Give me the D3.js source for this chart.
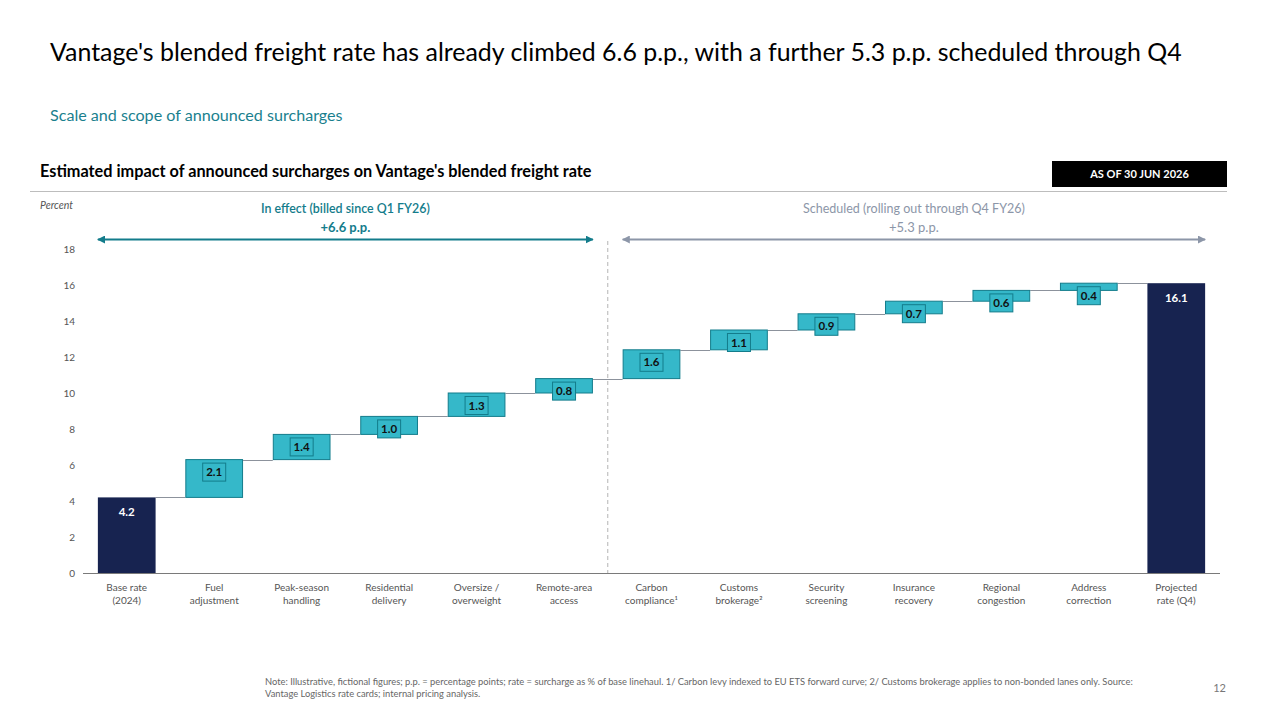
<!DOCTYPE html>
<html>
<head>
<meta charset="utf-8">
<script src="https://cdn.jsdelivr.net/npm/d3@7"></script>
<style>
  body { margin: 0; background: #fff; }
  svg { font-family: Lato, "Open Sans", sans-serif; }
</style>
</head>
<body>
<div id="chart"></div>
<script>
// Chart data
var categories = ["Base rate|(2024)", "Fuel|adjustment", "Peak-season|handling", "Residential|delivery",
  "Oversize /|overweight", "Remote-area|access", "Carbon|compliance\u00b9", "Customs|brokerage\u00b2",
  "Security|screening", "Insurance|recovery", "Regional|congestion", "Address|correction", "Projected|rate (Q4)"];
var values = [4.2, 2.1, 1.4, 1.0, 1.3, 0.8, 1.6, 1.1, 0.9, 0.7, 0.6, 0.4, 16.1];
var kinds = ["total", "step", "step", "step", "step", "step", "step", "step", "step", "step", "step", "step", "total"];
var yTicks = [0, 2, 4, 6, 8, 10, 12, 14, 16, 18];
var inEffectCount = 6; // base + 5 surcharges billed already

var svgWidth = 1280;
var svgHeight = 720;

var svg = d3.select("#chart").append("svg")
  .attr("width", svgWidth)
  .attr("height", svgHeight);

// scale a text's font size so it spans roughly the width seen in the slide
function fitWidth(sel, target) {
  var w = sel.node().getComputedTextLength();
  var fs = parseFloat(sel.attr("font-size"));
  if (w > 0) sel.attr("font-size", (fs * target / w).toFixed(2) + "px");
  return sel;
}

// Headline and subtitle
fitWidth(svg.append("text")
  .attr("x", 50).attr("y", 61)
  .attr("font-size", "22px").attr("fill", "#000")
  .text("Vantage's blended freight rate has already climbed 6.6 p.p., with a further 5.3 p.p. scheduled through Q4"), 1132);

fitWidth(svg.append("text")
  .attr("x", 50).attr("y", 121)
  .attr("font-size", "15px").attr("fill", "#1a7f8e")
  .text("Scale and scope of announced surcharges"), 293);

fitWidth(svg.append("text")
  .attr("x", 40).attr("y", 177)
  .attr("font-size", "15px").attr("font-weight", "bold").attr("fill", "#000")
  .text("Estimated impact of announced surcharges on Vantage's blended freight rate"), 552);

// "as of" tag
svg.append("rect").attr("x", 1052).attr("y", 161).attr("width", 175).attr("height", 26).attr("fill", "#000");
svg.append("text")
  .attr("x", 1139.5).attr("y", 178)
  .attr("text-anchor", "middle").attr("font-size", "11px").attr("font-weight", "bold").attr("fill", "#fff")
  .text("AS OF 30 JUN 2026");

svg.append("line").attr("x1", 30).attr("x2", 1227).attr("y1", 191.5).attr("y2", 191.5)
  .attr("stroke", "#bdbdbd").attr("stroke-width", 1);

svg.append("text")
  .attr("x", 40).attr("y", 209)
  .attr("font-size", "10.5px").attr("font-style", "italic").attr("fill", "#555")
  .text("Percent");

// Scales
var xScale = d3.scaleBand()
  .domain(categories)
  .range([83, 1220])
  .paddingInner(0.34)
  .paddingOuter(0.17);

var yScale = d3.scaleLinear()
  .domain([0, 18])
  .range([573, 249]);

// Build waterfall rows
var running = 0;
var rows = categories.map(function(c, i) {
  var v = values[i];
  var row;
  if (kinds[i] === "total") {
    row = { cat: c, kind: "total", start: 0, end: v, value: v };
    running = v;
  } else {
    row = { cat: c, kind: "step", start: running, end: running + v, value: v };
    running += v;
  }
  return row;
});

var chartGroup = svg.append("g");

// Y axis labels (no line)
var leftAxis = d3.axisLeft(yScale).tickValues(yTicks).tickSize(0).tickPadding(0);
chartGroup.append("g")
  .attr("transform", "translate(75, 0)")
  .call(leftAxis)
  .call(function(g) {
    g.select(".domain").remove();
    g.selectAll("text").attr("font-size", "10px").attr("fill", "#555").attr("font-family", "Lato, sans-serif");
  });

// Divider between billed and scheduled
var divX = (xScale(categories[inEffectCount - 1]) + xScale.bandwidth() + xScale(categories[inEffectCount])) / 2;
chartGroup.append("line")
  .attr("x1", divX).attr("x2", divX)
  .attr("y1", 241).attr("y2", 573)
  .attr("stroke", "#b5b5b5").attr("stroke-dasharray", "4,3");

// Connectors
chartGroup.selectAll(".connector")
  .data(rows.slice(0, -1))
  .enter().append("line")
  .attr("x1", function(d) { return xScale(d.cat) + xScale.bandwidth(); })
  .attr("x2", function(d, i) { return xScale(rows[i + 1].cat); })
  .attr("y1", function(d) { return Math.round(yScale(d.end)) + 0.5; })
  .attr("y2", function(d) { return Math.round(yScale(d.end)) + 0.5; })
  .attr("stroke", "#8c929c").attr("stroke-width", 1);

// Bars
chartGroup.selectAll(".bar")
  .data(rows)
  .enter().append("rect")
  .attr("x", function(d) { return xScale(d.cat) + (d.kind === "step" ? 0.5 : 0); })
  .attr("y", function(d) { return yScale(d.end); })
  .attr("width", function(d) { return xScale.bandwidth() - (d.kind === "step" ? 1 : 0); })
  .attr("height", function(d) { return yScale(d.start) - yScale(d.end); })
  .attr("fill", function(d) { return d.kind === "total" ? "#172350" : "#35b8c9"; })
  .attr("stroke", function(d) { return d.kind === "total" ? "none" : "#137c8b"; })
  .attr("stroke-width", 1);

// Step labels in small boxes
var steps = rows.filter(function(d) { return d.kind === "step"; });
chartGroup.selectAll(".lblbox")
  .data(steps)
  .enter().append("rect")
  .attr("x", function(d) { return xScale(d.cat) + xScale.bandwidth() / 2 - 11.5; })
  .attr("y", function(d) { return yScale(d.end) + 3.5; })
  .attr("width", 23).attr("height", 18)
  .attr("fill", "#35b8c9").attr("stroke", "#137c8b").attr("stroke-width", 1);

chartGroup.selectAll(".lbl")
  .data(steps)
  .enter().append("text")
  .attr("x", function(d) { return xScale(d.cat) + xScale.bandwidth() / 2; })
  .attr("y", function(d) { return yScale(d.end) + 16.5; })
  .attr("text-anchor", "middle").attr("font-size", "11.5px").attr("font-weight", "bold").attr("fill", "#111")
  .text(function(d) { return d.value.toFixed(1); });

// Total labels
chartGroup.selectAll(".totlbl")
  .data(rows.filter(function(d) { return d.kind === "total"; }))
  .enter().append("text")
  .attr("x", function(d) { return xScale(d.cat) + xScale.bandwidth() / 2; })
  .attr("y", function(d) { return yScale(d.end) + 19; })
  .attr("text-anchor", "middle").attr("font-size", "11.5px").attr("font-weight", "bold").attr("fill", "#fff")
  .text(function(d) { return d.value.toFixed(1); });

// X axis baseline and category labels
var bottomAxis = d3.axisBottom(xScale).tickSize(0).tickFormat("");
chartGroup.append("g")
  .attr("transform", "translate(0, 573.5)")
  .call(bottomAxis)
  .call(function(g) {
    g.select(".domain").attr("stroke", "#7a7a7a").attr("d", "M83,0H1220");
  });

var catLabels = chartGroup.selectAll(".catlbl")
  .data(categories)
  .enter().append("text")
  .attr("x", function(d) { return xScale(d) + xScale.bandwidth() / 2; })
  .attr("y", 591)
  .attr("text-anchor", "middle").attr("font-size", "10px").attr("fill", "#555");

catLabels.each(function(d) {
  var parts = d.split("|");
  var t = d3.select(this);
  parts.forEach(function(p, i) {
    t.append("tspan")
      .attr("x", xScale(d) + xScale.bandwidth() / 2)
      .attr("dy", i === 0 ? 0 : 13)
      .text(p);
  });
});

// Range arrows above the chart
var arrowY = 239.5;
var groups = [
  { x1: xScale(categories[0]), x2: xScale(categories[inEffectCount - 1]) + xScale.bandwidth(),
    color: "#137c8b", title: "In effect (billed since Q1 FY26)", total: "+6.6 p.p.", weight: "bold" },
  { x1: xScale(categories[inEffectCount]), x2: xScale(categories[categories.length - 1]) + xScale.bandwidth(),
    color: "#8c96a8", title: "Scheduled (rolling out through Q4 FY26)", total: "+5.3 p.p.", weight: "normal" }
];
var titleWidths = [169, 222];

var defs = svg.append("defs");
groups.forEach(function(g, i) {
  defs.append("marker")
    .attr("id", "arrow" + i)
    .attr("viewBox", "0 0 10 10")
    .attr("refX", 9).attr("refY", 5)
    .attr("markerWidth", 4).attr("markerHeight", 4)
    .attr("orient", "auto-start-reverse")
    .append("path")
    .attr("d", "M0,0L10,5L0,10z")
    .attr("fill", g.color);

  chartGroup.append("line")
    .attr("x1", g.x1).attr("x2", g.x2)
    .attr("y1", arrowY).attr("y2", arrowY)
    .attr("stroke", g.color).attr("stroke-width", 2)
    .attr("marker-start", "url(#arrow" + i + ")")
    .attr("marker-end", "url(#arrow" + i + ")");

  var cx = (g.x1 + g.x2) / 2;
  fitWidth(chartGroup.append("text")
    .attr("x", cx).attr("y", 213)
    .attr("text-anchor", "middle").attr("font-size", "11px").attr("fill", g.color)
    .attr("font-weight", g.weight === "bold" ? "600" : "normal")
    .text(g.title), titleWidths[i]);
  chartGroup.append("text")
    .attr("x", cx).attr("y", 232)
    .attr("text-anchor", "middle").attr("font-size", "13px").attr("fill", g.color)
    .attr("font-weight", g.weight)
    .text(g.total);
});

// Footnote and page number
var notes = ["Note: Illustrative, fictional figures; p.p. = percentage points; rate = surcharge as % of base linehaul. 1/ Carbon levy indexed to EU ETS forward curve; 2/ Customs brokerage applies to non-bonded lanes only. Source:",
  "Vantage Logistics rate cards; internal pricing analysis."];
var noteSel = svg.selectAll(".note")
  .data(notes)
  .enter().append("text")
  .attr("x", 265)
  .attr("y", function(d, i) { return 685 + i * 12; })
  .attr("font-size", "8px").attr("fill", "#666")
  .text(function(d) { return d; });
// both lines share the size fitted on the first
fitWidth(d3.select(noteSel.nodes()[0]), 869);
noteSel.attr("font-size", d3.select(noteSel.nodes()[0]).attr("font-size"));

svg.append("text")
  .attr("x", 1226).attr("y", 692)
  .attr("text-anchor", "end").attr("font-size", "11px").attr("fill", "#777")
  .text("12");
</script>
</body>
</html>
